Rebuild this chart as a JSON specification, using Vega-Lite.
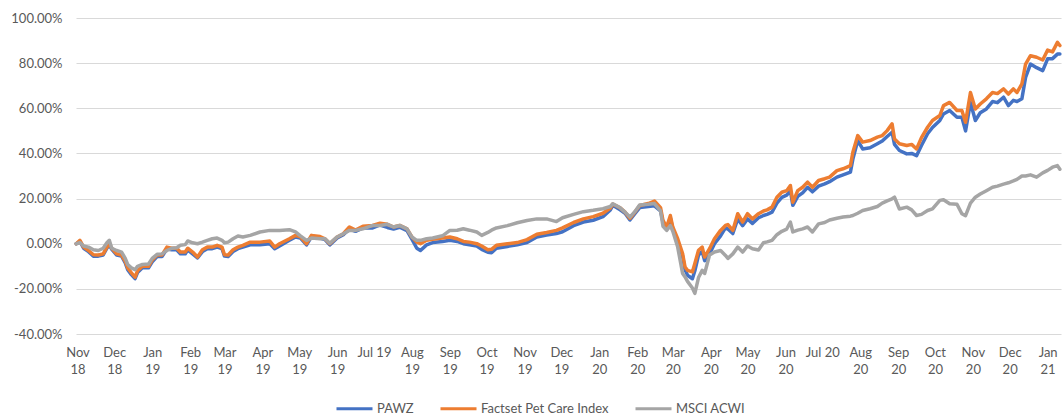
{
  "$schema": "https://vega.github.io/schema/vega-lite/v6.json",
  "width": 985,
  "height": 316,
  "autosize": {"type": "none"},
  "padding": {"left": 76, "top": 18, "right": 2, "bottom": 82},
  "background": "white",
  "data": {"values": [
    {"d":"2018-10-31","P":0,"F":0,"M":0},
    {"d":"2018-11-03","P":0.01,"F":0.015,"M":0.005},
    {"d":"2018-11-06","P":-0.02,"F":-0.015,"M":-0.01},
    {"d":"2018-11-10","P":-0.035,"F":-0.03,"M":-0.015},
    {"d":"2018-11-14","P":-0.055,"F":-0.049,"M":-0.027},
    {"d":"2018-11-18","P":-0.055,"F":-0.05,"M":-0.03},
    {"d":"2018-11-22","P":-0.05,"F":-0.045,"M":-0.02},
    {"d":"2018-11-25","P":-0.02,"F":-0.015,"M":0.004},
    {"d":"2018-11-27","P":-0.005,"F":0,"M":0.015},
    {"d":"2018-11-29","P":-0.025,"F":-0.02,"M":-0.02},
    {"d":"2018-12-03","P":-0.05,"F":-0.045,"M":-0.03},
    {"d":"2018-12-07","P":-0.055,"F":-0.05,"M":-0.037},
    {"d":"2018-12-10","P":-0.085,"F":-0.078,"M":-0.065},
    {"d":"2018-12-12","P":-0.115,"F":-0.107,"M":-0.092},
    {"d":"2018-12-15","P":-0.137,"F":-0.129,"M":-0.107},
    {"d":"2018-12-18","P":-0.155,"F":-0.148,"M":-0.115},
    {"d":"2018-12-20","P":-0.128,"F":-0.12,"M":-0.1},
    {"d":"2018-12-24","P":-0.107,"F":-0.1,"M":-0.092},
    {"d":"2018-12-29","P":-0.107,"F":-0.1,"M":-0.09},
    {"d":"2019-01-01","P":-0.08,"F":-0.072,"M":-0.065},
    {"d":"2019-01-05","P":-0.057,"F":-0.05,"M":-0.047},
    {"d":"2019-01-09","P":-0.057,"F":-0.05,"M":-0.045},
    {"d":"2019-01-13","P":-0.023,"F":-0.015,"M":-0.03},
    {"d":"2019-01-17","P":-0.027,"F":-0.02,"M":-0.02},
    {"d":"2019-01-21","P":-0.027,"F":-0.02,"M":-0.018},
    {"d":"2019-01-24","P":-0.045,"F":-0.037,"M":-0.007},
    {"d":"2019-01-28","P":-0.045,"F":-0.037,"M":-0.004},
    {"d":"2019-01-30","P":-0.027,"F":-0.02,"M":0.012},
    {"d":"2019-02-03","P":-0.045,"F":-0.037,"M":0.004},
    {"d":"2019-02-07","P":-0.063,"F":-0.059,"M":0},
    {"d":"2019-02-11","P":-0.035,"F":-0.027,"M":0.007},
    {"d":"2019-02-15","P":-0.022,"F":-0.015,"M":0.015},
    {"d":"2019-02-19","P":-0.022,"F":-0.015,"M":0.022},
    {"d":"2019-02-23","P":-0.015,"F":-0.007,"M":0.025},
    {"d":"2019-02-27","P":-0.022,"F":-0.015,"M":0.015},
    {"d":"2019-03-01","P":-0.055,"F":-0.049,"M":0.004},
    {"d":"2019-03-04","P":-0.057,"F":-0.05,"M":0.007},
    {"d":"2019-03-08","P":-0.035,"F":-0.027,"M":0.022},
    {"d":"2019-03-12","P":-0.022,"F":-0.015,"M":0.034},
    {"d":"2019-03-16","P":-0.015,"F":-0.007,"M":0.03},
    {"d":"2019-03-22","P":-0.005,"F":0.007,"M":0.037},
    {"d":"2019-03-30","P":-0.005,"F":0.007,"M":0.052},
    {"d":"2019-04-07","P":0,"F":0.012,"M":0.059},
    {"d":"2019-04-11","P":-0.022,"F":-0.015,"M":0.059},
    {"d":"2019-04-15","P":-0.01,"F":0,"M":0.059},
    {"d":"2019-04-23","P":0.015,"F":0.022,"M":0.062},
    {"d":"2019-04-28","P":0.03,"F":0.037,"M":0.052},
    {"d":"2019-05-02","P":0.025,"F":0.03,"M":0.035},
    {"d":"2019-05-07","P":-0.005,"F":0,"M":0.015},
    {"d":"2019-05-11","P":0.03,"F":0.037,"M":0.025},
    {"d":"2019-05-18","P":0.025,"F":0.032,"M":0.022},
    {"d":"2019-05-22","P":0.018,"F":0.022,"M":0.022},
    {"d":"2019-05-26","P":-0.005,"F":0,"M":0.002},
    {"d":"2019-06-01","P":0.025,"F":0.03,"M":0.03},
    {"d":"2019-06-06","P":0.04,"F":0.044,"M":0.044},
    {"d":"2019-06-11","P":0.065,"F":0.074,"M":0.059},
    {"d":"2019-06-16","P":0.055,"F":0.06,"M":0.059},
    {"d":"2019-06-22","P":0.07,"F":0.077,"M":0.066},
    {"d":"2019-06-30","P":0.07,"F":0.081,"M":0.081},
    {"d":"2019-07-06","P":0.083,"F":0.091,"M":0.081},
    {"d":"2019-07-12","P":0.072,"F":0.086,"M":0.086},
    {"d":"2019-07-17","P":0.065,"F":0.074,"M":0.074},
    {"d":"2019-07-22","P":0.073,"F":0.081,"M":0.081},
    {"d":"2019-07-28","P":0.058,"F":0.066,"M":0.066},
    {"d":"2019-08-01","P":0.02,"F":0.03,"M":0.03},
    {"d":"2019-08-05","P":-0.02,"F":0.007,"M":0.015},
    {"d":"2019-08-08","P":-0.03,"F":0,"M":0.015},
    {"d":"2019-08-13","P":-0.005,"F":0.015,"M":0.022},
    {"d":"2019-08-18","P":0.005,"F":0.02,"M":0.025},
    {"d":"2019-08-26","P":0.01,"F":0.025,"M":0.035},
    {"d":"2019-09-01","P":0.015,"F":0.03,"M":0.059},
    {"d":"2019-09-07","P":0.01,"F":0.022,"M":0.06},
    {"d":"2019-09-12","P":0,"F":0.01,"M":0.066},
    {"d":"2019-09-17","P":-0.005,"F":0.007,"M":0.06},
    {"d":"2019-09-23","P":-0.01,"F":0,"M":0.052},
    {"d":"2019-09-27","P":-0.025,"F":-0.01,"M":0.037},
    {"d":"2019-10-02","P":-0.038,"F":-0.027,"M":0.05},
    {"d":"2019-10-05","P":-0.04,"F":-0.025,"M":0.06},
    {"d":"2019-10-09","P":-0.02,"F":-0.007,"M":0.07},
    {"d":"2019-10-18","P":-0.012,"F":0,"M":0.08},
    {"d":"2019-10-26","P":-0.005,"F":0.005,"M":0.093},
    {"d":"2019-11-03","P":0.005,"F":0.018,"M":0.103},
    {"d":"2019-11-11","P":0.03,"F":0.042,"M":0.11},
    {"d":"2019-11-19","P":0.038,"F":0.05,"M":0.11},
    {"d":"2019-11-27","P":0.045,"F":0.059,"M":0.098},
    {"d":"2019-12-02","P":0.053,"F":0.07,"M":0.115},
    {"d":"2019-12-11","P":0.08,"F":0.094,"M":0.13},
    {"d":"2019-12-19","P":0.096,"F":0.11,"M":0.142},
    {"d":"2019-12-27","P":0.104,"F":0.12,"M":0.148},
    {"d":"2020-01-04","P":0.12,"F":0.135,"M":0.155},
    {"d":"2020-01-10","P":0.15,"F":0.158,"M":0.165},
    {"d":"2020-01-12","P":0.17,"F":0.176,"M":0.177},
    {"d":"2020-01-18","P":0.15,"F":0.159,"M":0.159},
    {"d":"2020-01-22","P":0.135,"F":0.14,"M":0.14},
    {"d":"2020-01-26","P":0.105,"F":0.112,"M":0.118},
    {"d":"2020-01-30","P":0.133,"F":0.14,"M":0.142},
    {"d":"2020-02-03","P":0.16,"F":0.169,"M":0.172},
    {"d":"2020-02-10","P":0.165,"F":0.178,"M":0.175},
    {"d":"2020-02-15","P":0.168,"F":0.189,"M":0.178},
    {"d":"2020-02-20","P":0.145,"F":0.16,"M":0.145},
    {"d":"2020-02-22","P":0.095,"F":0.103,"M":0.077},
    {"d":"2020-02-25","P":0.065,"F":0.074,"M":0.059},
    {"d":"2020-02-28","P":0.115,"F":0.125,"M":0.08},
    {"d":"2020-03-01","P":0.065,"F":0.074,"M":0.055},
    {"d":"2020-03-05","P":0.01,"F":0.022,"M":-0.015},
    {"d":"2020-03-09","P":-0.055,"F":-0.044,"M":-0.132},
    {"d":"2020-03-11","P":-0.115,"F":-0.103,"M":-0.147},
    {"d":"2020-03-13","P":-0.14,"F":-0.118,"M":-0.167},
    {"d":"2020-03-17","P":-0.155,"F":-0.125,"M":-0.196},
    {"d":"2020-03-19","P":-0.12,"F":-0.088,"M":-0.22},
    {"d":"2020-03-22","P":-0.05,"F":-0.029,"M":-0.15},
    {"d":"2020-03-25","P":-0.035,"F":-0.015,"M":-0.118},
    {"d":"2020-03-27","P":-0.075,"F":-0.059,"M":-0.132},
    {"d":"2020-03-31","P":-0.045,"F":-0.022,"M":-0.05},
    {"d":"2020-04-04","P":0,"F":0.022,"M":-0.037},
    {"d":"2020-04-09","P":0.035,"F":0.059,"M":-0.03},
    {"d":"2020-04-13","P":0.07,"F":0.081,"M":-0.052},
    {"d":"2020-04-15","P":0.065,"F":0.085,"M":-0.065},
    {"d":"2020-04-19","P":0.045,"F":0.059,"M":-0.045},
    {"d":"2020-04-23","P":0.11,"F":0.133,"M":-0.015},
    {"d":"2020-04-27","P":0.08,"F":0.096,"M":-0.037},
    {"d":"2020-05-01","P":0.11,"F":0.133,"M":-0.01},
    {"d":"2020-05-05","P":0.09,"F":0.11,"M":-0.022},
    {"d":"2020-05-10","P":0.115,"F":0.133,"M":-0.028},
    {"d":"2020-05-14","P":0.125,"F":0.145,"M":0.004},
    {"d":"2020-05-17","P":0.13,"F":0.15,"M":0.008},
    {"d":"2020-05-21","P":0.14,"F":0.162,"M":0.015},
    {"d":"2020-05-25","P":0.18,"F":0.206,"M":0.04},
    {"d":"2020-05-29","P":0.205,"F":0.228,"M":0.055},
    {"d":"2020-06-02","P":0.215,"F":0.235,"M":0.065},
    {"d":"2020-06-05","P":0.235,"F":0.258,"M":0.096},
    {"d":"2020-06-07","P":0.17,"F":0.184,"M":0.052},
    {"d":"2020-06-11","P":0.21,"F":0.235,"M":0.06},
    {"d":"2020-06-15","P":0.225,"F":0.25,"M":0.066},
    {"d":"2020-06-19","P":0.25,"F":0.273,"M":0.074},
    {"d":"2020-06-23","P":0.23,"F":0.25,"M":0.052},
    {"d":"2020-06-28","P":0.255,"F":0.28,"M":0.088},
    {"d":"2020-07-03","P":0.265,"F":0.288,"M":0.094},
    {"d":"2020-07-07","P":0.275,"F":0.295,"M":0.105},
    {"d":"2020-07-13","P":0.295,"F":0.324,"M":0.113},
    {"d":"2020-07-18","P":0.305,"F":0.332,"M":0.118},
    {"d":"2020-07-24","P":0.317,"F":0.346,"M":0.122},
    {"d":"2020-07-26","P":0.375,"F":0.405,"M":0.125},
    {"d":"2020-07-30","P":0.457,"F":0.479,"M":0.135},
    {"d":"2020-08-03","P":0.42,"F":0.45,"M":0.147},
    {"d":"2020-08-09","P":0.425,"F":0.457,"M":0.155},
    {"d":"2020-08-15","P":0.443,"F":0.472,"M":0.165},
    {"d":"2020-08-19","P":0.455,"F":0.479,"M":0.18},
    {"d":"2020-08-23","P":0.475,"F":0.501,"M":0.19},
    {"d":"2020-08-27","P":0.494,"F":0.531,"M":0.199},
    {"d":"2020-08-29","P":0.44,"F":0.464,"M":0.206},
    {"d":"2020-09-02","P":0.413,"F":0.443,"M":0.154},
    {"d":"2020-09-08","P":0.398,"F":0.435,"M":0.162},
    {"d":"2020-09-12","P":0.40,"F":0.44,"M":0.15},
    {"d":"2020-09-16","P":0.39,"F":0.42,"M":0.125},
    {"d":"2020-09-20","P":0.435,"F":0.47,"M":0.13},
    {"d":"2020-09-25","P":0.487,"F":0.516,"M":0.147},
    {"d":"2020-09-29","P":0.515,"F":0.546,"M":0.154},
    {"d":"2020-10-05","P":0.546,"F":0.568,"M":0.192},
    {"d":"2020-10-08","P":0.575,"F":0.612,"M":0.195},
    {"d":"2020-10-13","P":0.59,"F":0.626,"M":0.177},
    {"d":"2020-10-19","P":0.56,"F":0.59,"M":0.175},
    {"d":"2020-10-23","P":0.56,"F":0.59,"M":0.133},
    {"d":"2020-10-26","P":0.50,"F":0.538,"M":0.124},
    {"d":"2020-10-30","P":0.626,"F":0.67,"M":0.18},
    {"d":"2020-11-03","P":0.546,"F":0.597,"M":0.206},
    {"d":"2020-11-07","P":0.58,"F":0.619,"M":0.22},
    {"d":"2020-11-12","P":0.597,"F":0.642,"M":0.235},
    {"d":"2020-11-17","P":0.63,"F":0.67,"M":0.25},
    {"d":"2020-11-21","P":0.625,"F":0.665,"M":0.255},
    {"d":"2020-11-26","P":0.649,"F":0.686,"M":0.264},
    {"d":"2020-11-30","P":0.612,"F":0.663,"M":0.27},
    {"d":"2020-12-04","P":0.635,"F":0.686,"M":0.278},
    {"d":"2020-12-07","P":0.63,"F":0.67,"M":0.285},
    {"d":"2020-12-11","P":0.642,"F":0.708,"M":0.30},
    {"d":"2020-12-14","P":0.737,"F":0.796,"M":0.30},
    {"d":"2020-12-18","P":0.796,"F":0.833,"M":0.305},
    {"d":"2020-12-23","P":0.78,"F":0.826,"M":0.295},
    {"d":"2020-12-28","P":0.767,"F":0.814,"M":0.314},
    {"d":"2021-01-01","P":0.819,"F":0.858,"M":0.325},
    {"d":"2021-01-05","P":0.82,"F":0.85,"M":0.339},
    {"d":"2021-01-09","P":0.84,"F":0.892,"M":0.346},
    {"d":"2021-01-11","P":0.84,"F":0.878,"M":0.33}
  ]},
  "encoding": {
    "x": {
      "field": "d", "type": "temporal", "title": null,
      "scale": {"type": "utc", "domain": [
        {"year": 2018, "month": 10, "date": 30, "hours": 19, "utc": true},
        {"year": 2021, "month": 1, "date": 11, "hours": 22, "utc": true}
      ]},
      "axis": {
        "tickCount": {"interval": "month", "step": 1},
        "labelExpr": "utcFormat(datum.value, '%m') == '07' ? utcFormat(datum.value, '%b %y') : [utcFormat(datum.value, '%b'), utcFormat(datum.value, '%y')]",
        "grid": false, "ticks": false, "domain": false,
        "labelPadding": 12, "labelLineHeight": 17, "labelBaseline": "top",
        "labelOverlap": false, "labelFlush": false, "labelBound": false
      }
    }
  },
  "layer": [
    {
      "mark": {"type": "line", "strokeWidth": 3.5, "strokeJoin": "round", "strokeCap": "round"},
      "encoding": {
        "y": {"field": "P", "type": "quantitative", "title": null,
              "scale": {"domain": [-0.4, 1.0], "nice": false, "zero": false},
              "axis": {"values": [-0.4, -0.2, 0, 0.2, 0.4, 0.6, 0.8, 1.0],
                       "labelExpr": "replace(format(datum.value, '.2%'), '\u2212', '-')"}},
        "color": {"datum": "PAWZ", "type": "nominal",
                  "scale": {"domain": ["PAWZ", "Factset Pet Care Index", "MSCI ACWI"], "range": ["#4472C4", "#ED7D31", "#A5A5A5"]},
                  "legend": {"title": null, "orient": "none", "legendX": 259, "legendY": 371, "direction": "horizontal"}}
      }
    },
    {
      "mark": {"type": "line", "strokeWidth": 3.5, "strokeJoin": "round", "strokeCap": "round"},
      "encoding": {
        "y": {"field": "F", "type": "quantitative", "title": null},
        "color": {"datum": "Factset Pet Care Index", "type": "nominal"}
      }
    },
    {
      "mark": {"type": "line", "strokeWidth": 3.5, "strokeJoin": "round", "strokeCap": "round"},
      "encoding": {
        "y": {"field": "M", "type": "quantitative", "title": null},
        "color": {"datum": "MSCI ACWI", "type": "nominal"}
      }
    }
  ],
  "config": {
    "view": {"stroke": null},
    "font": "Lato",
    "axis": {"labelFont": "Lato", "labelFontSize": 13, "labelColor": "#595959"},
    "axisY": {"ticks": false, "domain": false, "gridColor": "#d9d9d9", "gridWidth": 1, "labelPadding": 14},
    "legend": {
      "symbolType": "stroke", "symbolSize": 1296, "symbolStrokeWidth": 3,
      "labelFont": "Lato", "labelFontSize": 13, "labelColor": "#595959",
      "labelOffset": 3, "columnPadding": 20, "padding": 0
    }
  }
}
